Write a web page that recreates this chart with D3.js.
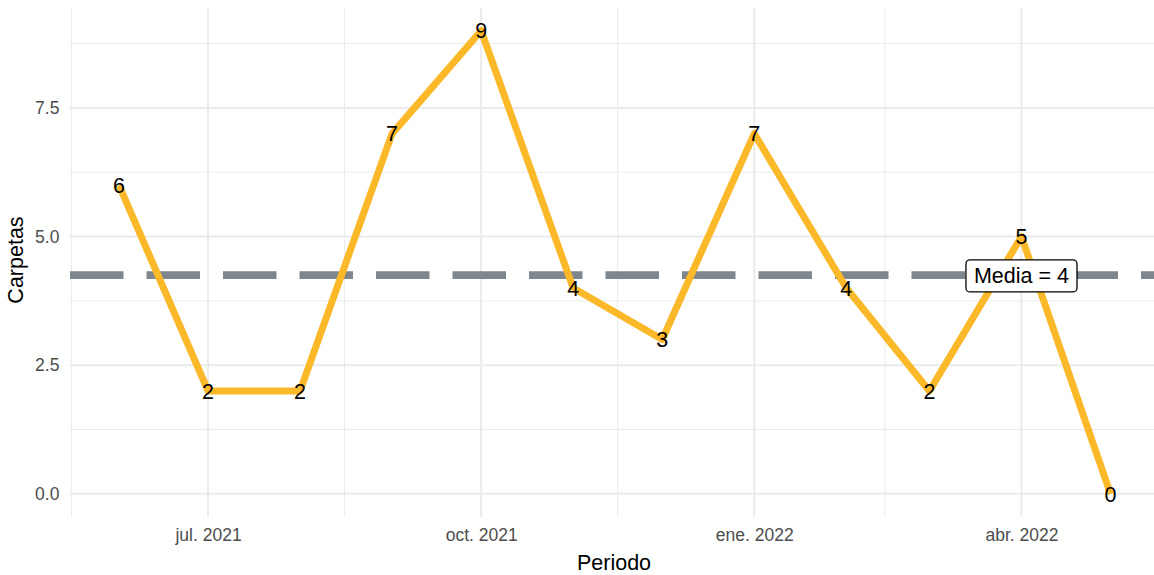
<!DOCTYPE html>
<html><head><meta charset="utf-8">
<script src="https://cdn.jsdelivr.net/npm/d3@7"></script>
<style>body{margin:0;background:#fff;} text{font-family:"Liberation Sans",Arial,sans-serif;}</style>
</head><body>
<svg id="c" width="1154" height="575"></svg>
<script>
const months = ["2021-06-01","2021-07-01","2021-08-01","2021-09-01","2021-10-01","2021-11-01","2021-12-01","2022-01-01","2022-02-01","2022-03-01","2022-04-01","2022-05-01"];
const carpetas = [6,2,2,7,9,4,3,7,4,2,5,0];
const xTickDates = ["2021-07-01","2021-10-01","2022-01-01","2022-04-01"];
const xTickLabels = ["jul. 2021","oct. 2021","ene. 2022","abr. 2022"];
const xMinorDates = ["2021-05-16","2021-08-16","2021-11-16","2022-02-14","2022-05-16"];
const yTicks = [0,2.5,5,7.5];
const yTickLabels = ["0.0","2.5","5.0","7.5"];
const yMinor = [1.25,3.75,6.25,8.75];
const mediaLabel = "Media = 4";

(function(){
const parse = d3.utcParse("%Y-%m-%d");
const dates = months.map(parse);
const svg = d3.select("#c");
const pL = 69.4, pR = 1160.1, pT = 7.6, pB = 517;

const d0 = dates[0], d1 = dates[dates.length-1];
const span = d1 - d0;
const x = d3.scaleUtc().domain([new Date(+d0 - span*0.05), new Date(+d1 + span*0.05)]).range([pL, pR]);
const yMax = d3.max(carpetas);
const y = d3.scaleLinear().domain([-yMax*0.05, yMax*1.05]).range([pB, pT]);

const grid = svg.append("g");
grid.selectAll(".hm").data(yMinor).join("line")
  .attr("x1", pL).attr("x2", pR).attr("y1", d=>y(d)).attr("y2", d=>y(d))
  .attr("stroke","#ebebeb").attr("stroke-width",1);
grid.selectAll(".vm").data(xMinorDates.map(parse)).join("line")
  .attr("x1", d=>x(d)).attr("x2", d=>x(d)).attr("y1", pT).attr("y2", pB)
  .attr("stroke","#ebebeb").attr("stroke-width",1);
grid.selectAll(".hM").data(yTicks).join("line")
  .attr("x1", pL).attr("x2", pR).attr("y1", d=>y(d)).attr("y2", d=>y(d))
  .attr("stroke","#ebebeb").attr("stroke-width",2);
grid.selectAll(".vM").data(xTickDates.map(parse)).join("line")
  .attr("x1", d=>x(d)).attr("x2", d=>x(d)).attr("y1", pT).attr("y2", pB)
  .attr("stroke","#ebebeb").attr("stroke-width",2);

const yAxis = d3.axisLeft(y).tickValues(yTicks).tickFormat((d,i)=>yTickLabels[i]).tickSize(0).tickPadding(10);
const ga = svg.append("g").attr("transform",`translate(${pL},0)`).call(yAxis);
ga.select(".domain").remove();
ga.selectAll("text").attr("fill","#4d4d4d").style("font-size","17.5px").style("font-family","Liberation Sans, Arial, sans-serif");

const xAxis = d3.axisBottom(x).tickValues(xTickDates.map(parse)).tickFormat((d,i)=>xTickLabels[i]).tickSize(0).tickPadding(12);
const gx = svg.append("g").attr("transform",`translate(0,${pB})`).call(xAxis);
gx.select(".domain").remove();
gx.selectAll("text").attr("fill","#4d4d4d").style("font-size","17.5px").style("font-family","Liberation Sans, Arial, sans-serif");

const mean = d3.mean(carpetas);
svg.append("clipPath").attr("id","pc").append("rect").attr("x",pL).attr("y",pT).attr("width",pR-pL).attr("height",pB-pT);
svg.append("line").attr("clip-path","url(#pc)")
  .attr("x1", 70).attr("x2", pR).attr("y1", y(mean)).attr("y2", y(mean))
  .attr("stroke","#7f878e").attr("stroke-width",7.7).attr("stroke-dasharray","53.5 23");

const line = d3.line().x((d,i)=>x(dates[i])).y(d=>y(d));
svg.append("path").datum(carpetas).attr("d", line)
  .attr("fill","none").attr("stroke","#fbb829").attr("stroke-width",7).attr("stroke-linejoin","round").attr("stroke-linecap","butt");

svg.selectAll(".pl").data(carpetas).join("text")
  .attr("x",(d,i)=>x(dates[i])).attr("y",d=>y(d)).attr("dy","0.36em")
  .attr("text-anchor","middle").style("font-size","21.5px").attr("fill","#000")
  .text(d=>d);

const lx = x(parse("2022-04-01")), ly = y(mean);
const lg = svg.append("g");
const lt = lg.append("text").attr("x",lx).attr("y",ly).attr("dy","0.36em").attr("text-anchor","middle")
  .style("font-size","21.5px").attr("fill","#000").text(mediaLabel);
const bb = lt.node().getBBox();
lg.insert("rect","text").attr("x",bb.x-8).attr("y",bb.y-4).attr("width",bb.width+16).attr("height",bb.height+8)
  .attr("rx",4).attr("fill","#fff").attr("stroke","#000").attr("stroke-width",1.3);

svg.append("text").attr("x",614).attr("y",570).attr("text-anchor","middle").style("font-size","21.5px").attr("fill","#000").text("Periodo");
svg.append("text").attr("transform",`translate(23,260) rotate(-90)`).attr("text-anchor","middle").style("font-size","21.5px").attr("fill","#000").text("Carpetas");
})();
</script>
</body></html>
